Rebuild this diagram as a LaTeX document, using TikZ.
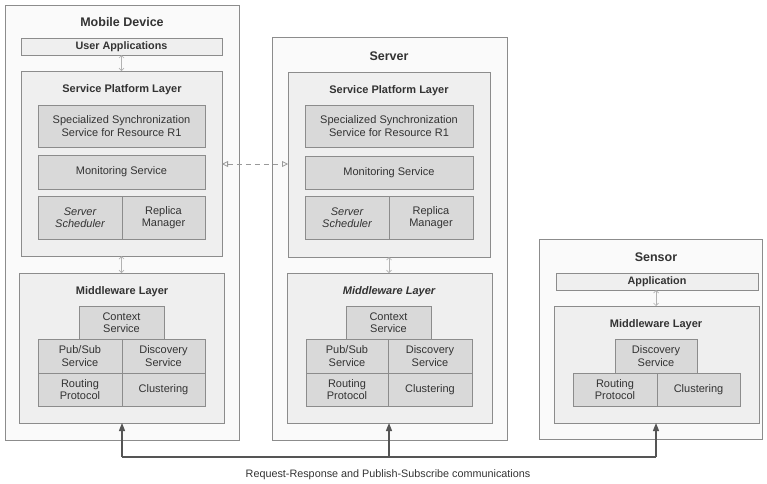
\documentclass[tikz,border=0pt]{standalone}
\usepackage{fontspec}
\setmainfont{Liberation Sans}
\usetikzlibrary{arrows.meta}
\definecolor{txt}{HTML}{333333}
\definecolor{outerfill}{HTML}{FAFAFA}
\definecolor{layerfill}{HTML}{EFEFEF}
\definecolor{innerfill}{HTML}{D9D9D9}
\definecolor{bordc}{HTML}{8C8C8C}
\definecolor{commc}{HTML}{555555}
\newcommand\mybox[7]{\node[#1, minimum width={(#5-#3)*1pt}, minimum height={(#6-#4)*1pt}, anchor=north west] (#2) at (#3,#4) {#7};}
\tikzset{
  outerbox/.style={draw=bordc, fill=outerfill, line width=0.8pt, inner sep=0pt, outer sep=0pt},
  layerbox/.style={draw=bordc, fill=layerfill, line width=0.8pt, inner sep=0pt, outer sep=0pt},
  appbox/.style={draw=bordc, fill=layerfill, line width=0.8pt, inner sep=0pt, outer sep=0pt, font=\fontsize{10.8}{12}\selectfont\bfseries, text=txt},
  innerbox/.style={draw=bordc, fill=innerfill, line width=0.8pt, inner sep=0pt, outer sep=0pt, align=center, font=\fontsize{11}{12.5}\selectfont, text=txt},
  ttl/.style={font=\fontsize{12.5}{14}\selectfont\bfseries, text=txt, inner sep=0pt},
  lttl/.style={font=\fontsize{11}{13}\selectfont\bfseries, text=txt, inner sep=0pt},
  small/.style={draw=gray!60, line width=0.7pt, {Straight Barb[length=2.5pt,width=5pt]}-{Straight Barb[length=2.5pt,width=5pt]}},
  dashlink/.style={draw=gray!80, line width=0.8pt, dash pattern=on 5pt off 4pt, {Triangle[open,length=6pt,width=6pt]}-{Triangle[open,length=6pt,width=6pt]}},
  comm/.style={draw=commc, line width=1.3pt, -{Triangle[length=8pt,width=6pt]}},
  commline/.style={draw=commc, line width=1.3pt},
  caption/.style={font=\fontsize{10.8}{12}\selectfont, text=txt, inner sep=0pt}
}
\begin{document}
\begin{tikzpicture}[x=1pt,y=-1pt]
\useasboundingbox (0,0) rectangle (767,483);
% ---------------- Mobile Device ----------------
\mybox{outerbox}{mdev}{5}{5}{239}{440}{}
\node[ttl] (mdevT) at (122,22) {Mobile Device};
\mybox{appbox}{muapp}{21}{38}{222}{55}{User Applications}
\mybox{layerbox}{mspl}{21}{71}{222}{256}{}
\node[lttl] (msplT) at (122,90) {Service Platform Layer};
\mybox{innerbox}{msync}{38}{105}{205}{147}{Specialized Synchronization\\Service for Resource R1}
\mybox{innerbox}{mmon}{38}{155}{205}{189}{Monitoring Service}
\mybox{innerbox}{msched}{38}{196}{122}{239}{\itshape Server\\\itshape Scheduler}
\mybox{innerbox}{mrep}{122}{196}{205}{239}{Replica\\Manager}
\mybox{layerbox}{mmw}{19}{273}{224}{423}{}
\node[lttl] (mmwT) at (122,292) {Middleware Layer};
\mybox{innerbox}{mctx}{79}{306}{164}{339}{Context\\Service}
\mybox{innerbox}{mpub}{38}{339}{122}{373}{Pub/Sub\\Service}
\mybox{innerbox}{mdisc}{122}{339}{205}{373}{Discovery\\Service}
\mybox{innerbox}{mrout}{38}{373}{122}{406}{Routing\\Protocol}
\mybox{innerbox}{mclus}{122}{373}{205}{406}{Clustering}
\draw[small] (muapp.south) -- (mspl.north);
\draw[small] (mspl.south) -- (mmw.north);
% ---------------- Server ----------------
\mybox{outerbox}{srv}{272}{37}{507}{440}{}
\node[ttl] (srvT) at (389,56) {Server};
\mybox{layerbox}{sspl}{288}{72}{490}{257}{}
\node[lttl] (ssplT) at (389,91) {Service Platform Layer};
\mybox{innerbox}{ssync}{305}{105}{473}{147}{Specialized Synchronization\\Service for Resource R1}
\mybox{innerbox}{smon}{305}{156}{473}{189}{Monitoring Service}
\mybox{innerbox}{ssched}{305}{196}{389}{239}{\itshape Server\\\itshape Scheduler}
\mybox{innerbox}{srep}{389}{196}{473}{239}{Replica\\Manager}
\mybox{layerbox}{smw}{287}{273}{492}{423}{}
\node[lttl, font=\fontsize{11}{13}\selectfont\bfseries\itshape] (smwT) at (389,292) {Middleware Layer};
\mybox{innerbox}{sctx}{346}{306}{431}{339}{Context\\Service}
\mybox{innerbox}{spub}{306}{339}{388}{373}{Pub/Sub\\Service}
\mybox{innerbox}{sdisc}{388}{339}{472}{373}{Discovery\\Service}
\mybox{innerbox}{srout}{306}{373}{388}{406}{Routing\\Protocol}
\mybox{innerbox}{sclus}{388}{373}{472}{406}{Clustering}
\draw[small] (389,257) -- (389,273);
% dashed link
\coordinate (dl1) at (222,164);
\coordinate (dl2) at (288,164);
\draw[dashlink] (dl1) -- (dl2);
% ---------------- Sensor ----------------
\mybox{outerbox}{sen}{539}{239}{762}{439}{}
\node[ttl] (senT) at (656,257) {Sensor};
\mybox{appbox}{snapp}{556}{273}{758}{290}{Application}
\mybox{layerbox}{snmw}{554}{306}{759}{423}{}
\node[lttl] (snmwT) at (656,325) {Middleware Layer};
\mybox{innerbox}{sndisc}{615}{339}{697}{373}{Discovery\\Service}
\mybox{innerbox}{snrout}{573}{373}{657}{406}{Routing\\Protocol}
\mybox{innerbox}{snclus}{657}{373}{740}{406}{Clustering}
\draw[small] (656,290) -- (656,306);
% ---------------- communications ----------------
\coordinate (c1) at (122,457);
\coordinate (c2) at (389,457);
\coordinate (c3) at (656,457);
\draw[commline] (c1) -- (c3);
\draw[comm] (c1) -- (122,423);
\draw[comm] (c2) -- (389,423);
\draw[comm] (c3) -- (656,423);
\node[caption] (cap) at (388,475) {Request-Response and Publish-Subscribe communications};
\end{tikzpicture}
\end{document}
